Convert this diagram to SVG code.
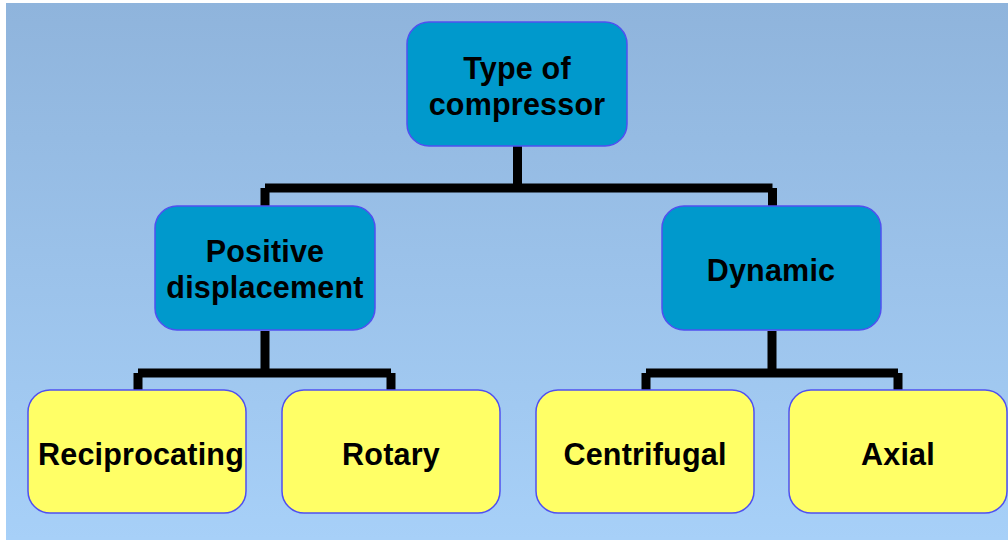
<svg xmlns="http://www.w3.org/2000/svg" width="1008" height="541" viewBox="0 0 1008 541">
<defs>
<linearGradient id="bg" x1="0" y1="0" x2="0" y2="1">
<stop offset="0" stop-color="#8fb4dc"/>
<stop offset="1" stop-color="#a7d0f8"/>
</linearGradient>
<style>
.blue rect{fill:#0099cc;stroke:#5050f0;stroke-width:1.5}
.yellow rect{fill:#ffff66;stroke:#5050f0;stroke-width:1.5}
text{font-family:"Liberation Sans",Arial,sans-serif;font-weight:bold;font-size:30.5px;letter-spacing:0.2px;fill:#000;text-anchor:middle}
.conn path{fill:none;stroke:#000;stroke-width:9;stroke-linejoin:miter}
</style>
</defs>
<rect x="0" y="0" width="1008" height="541" fill="#ffffff"/>
<rect x="6" y="3" width="1002" height="537" fill="url(#bg)"/>
<g class="conn" id="connectors">
<path d="M517.5 146 V188 M265 188 H772.5 M265 188 V207 M772.5 188 V207"/>
<path d="M265 331 V373 M138 373 H391 M138 373 V391 M391 373 V391"/>
<path d="M772 331 V373 M646 373 H898 M646 373 V391 M898 373 V391"/>
</g>
<g id="n-type" class="blue">
<rect x="407" y="22" width="220" height="124" rx="22"/>
<text x="517" y="79">Type of</text>
<text x="517" y="115">compressor</text>
</g>
<g id="n-positive" class="blue">
<rect x="155" y="206" width="220" height="124" rx="22"/>
<text x="265" y="262">Positive</text>
<text x="265" y="298">displacement</text>
</g>
<g id="n-dynamic" class="blue">
<rect x="662" y="206" width="219" height="124" rx="22"/>
<text x="771" y="281">Dynamic</text>
</g>
<g id="n-reciprocating" class="yellow">
<rect x="28" y="390" width="218" height="123" rx="22"/>
<text x="141" y="465">Reciprocating</text>
</g>
<g id="n-rotary" class="yellow">
<rect x="282" y="390" width="218" height="123" rx="22"/>
<text x="391" y="465">Rotary</text>
</g>
<g id="n-centrifugal" class="yellow">
<rect x="536" y="390" width="218" height="123" rx="22"/>
<text x="645" y="465">Centrifugal</text>
</g>
<g id="n-axial" class="yellow">
<rect x="789" y="390" width="218" height="123" rx="22"/>
<text x="898" y="465">Axial</text>
</g>
</svg>
